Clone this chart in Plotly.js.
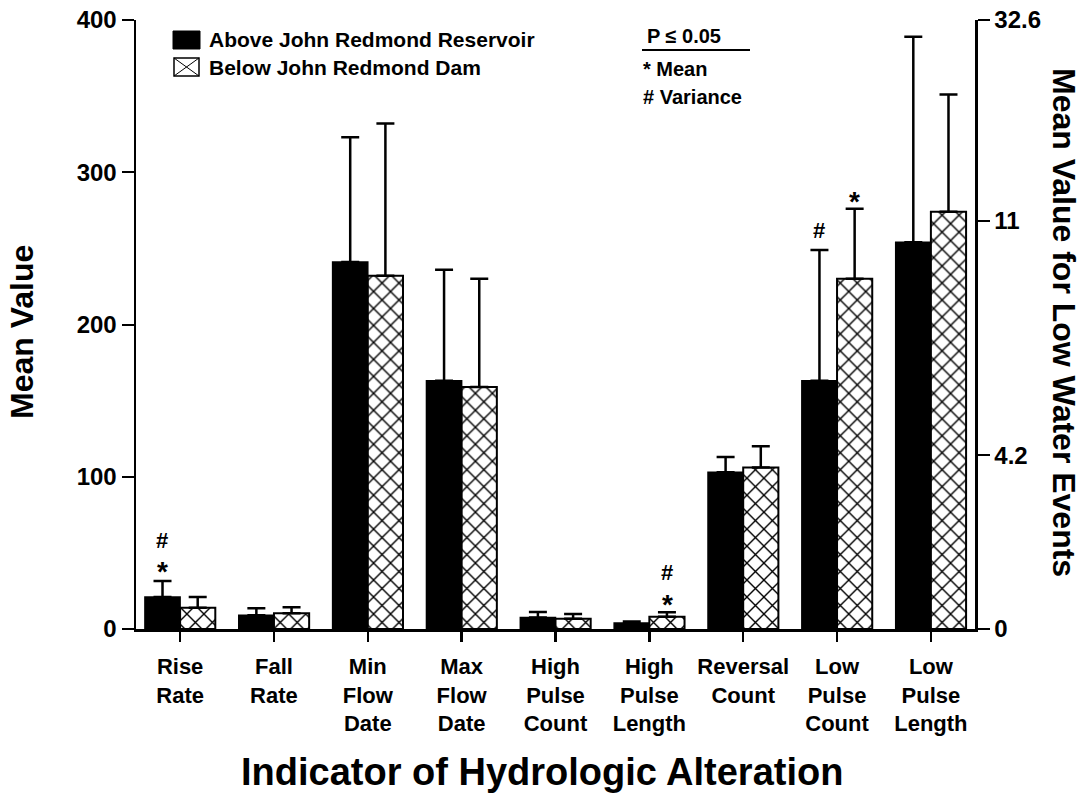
<!DOCTYPE html>
<html>
<head>
<meta charset="utf-8">
<script src="https://cdn.plot.ly/plotly-3.0.1.min.js"></script>
<style>html,body{margin:0;padding:0;background:#fff;}#chart{width:1085px;height:800px;}</style>
</head>
<body>
<div id="chart"></div>
<script>
// ---- data ----
const categories = ["Rise<br>Rate", "Fall<br>Rate", "Min<br>Flow<br>Date", "Max<br>Flow<br>Date",
  "High<br>Pulse<br>Count", "High<br>Pulse<br>Length", "Reversal<br>Count", "Low<br>Pulse<br>Count", "Low<br>Pulse<br>Length"];
const aboveValues = [21, 9, 241, 163, 7.5, 4, 103, 163, 254];
const aboveErrors = [10.5, 4.7, 82, 73, 3.7, 1, 10, 86, 135];
const belowValues = [14, 10.3, 232, 159, 6.8, 8, 106, 230, 274];
const belowErrors = [7, 4, 100, 71, 3, 3, 14, 46, 77];
const leftTicks = [0, 100, 200, 300, 400];
const rightTickPositions = [0, 114, 268, 400];
const rightTickLabels = ["0", "4.2", "11", "32.6"];
const seriesNames = ["Above John Redmond Reservoir", "Below John Redmond Dam"];
// significance marks: [category index, series (0 above / 1 below), symbol, value level]
const marks = [
  [0, 0, "#", 58], [0, 0, "*", 38],
  [5, 1, "#", 37], [5, 1, "*", 16],
  [7, 0, "#", 262], [7, 1, "*", 281]
];

// ---- layout helpers ----
const L = 136, R = 975, T = 20, B = 629;
const px = x => (x - L) / (R - L);
const py = y => (B - y) / (B - T);
const FONT = "Liberation Sans, Arial, sans-serif";
const xs = categories.map((c, i) => i);

const traces = [
  {
    type: "bar", name: seriesNames[0], x: xs, y: aboveValues,
    marker: {color: "#000", line: {color: "#000", width: 1.5}},
    error_y: {type: "data", array: aboveErrors, arrayminus: aboveValues.map(() => 0), symmetric: false,
      color: "#000", thickness: 2.5, width: 9},
    showlegend: false, hoverinfo: "skip"
  },
  {
    type: "bar", name: seriesNames[1], x: xs, y: belowValues,
    marker: {color: "#fff", line: {color: "#000", width: 2},
      pattern: {shape: "x", fgcolor: "#000", bgcolor: "#fff", size: 12, solidity: 0.22}},
    error_y: {type: "data", array: belowErrors, arrayminus: belowValues.map(() => 0), symmetric: false,
      color: "#000", thickness: 2.5, width: 9},
    showlegend: false, hoverinfo: "skip"
  },
  {
    type: "scatter", x: [0], y: [0], yaxis: "y2", mode: "markers",
    marker: {opacity: 0}, showlegend: false, hoverinfo: "skip"
  }
];

const offset = 0.19;
const annotations = marks.map(m => ({
  x: m[0] + (m[1] === 0 ? -offset : offset), y: m[3], xref: "x", yref: "y",
  text: m[2], showarrow: false, yanchor: "middle",
  font: {family: FONT, size: m[2] === "*" ? 28 : 22, color: "#000", weight: "bold"}
}));

const textFont = (s) => ({family: FONT, size: s, color: "#000", weight: "bold"});
annotations.push(
  {x: px(207), y: py(40), xref: "paper", yref: "paper", xanchor: "left", yanchor: "middle", showarrow: false,
   text: seriesNames[0], font: textFont(21)},
  {x: px(207), y: py(67), xref: "paper", yref: "paper", xanchor: "left", yanchor: "middle", showarrow: false,
   text: seriesNames[1], font: textFont(21)},
  {x: px(645), y: py(36), xref: "paper", yref: "paper", xanchor: "left", yanchor: "middle", showarrow: false,
   text: "P ≤ 0.05", font: textFont(20)},
  {x: px(641), y: py(69), xref: "paper", yref: "paper", xanchor: "left", yanchor: "middle", showarrow: false,
   text: "* Mean", font: textFont(20)},
  {x: px(641), y: py(97), xref: "paper", yref: "paper", xanchor: "left", yanchor: "middle", showarrow: false,
   text: "# Variance", font: textFont(20)},
  {x: px(22), y: py(332), xref: "paper", yref: "paper", xanchor: "center", yanchor: "middle", showarrow: false,
   text: "Mean Value", textangle: -90, font: textFont(32)},
  {x: px(1064), y: py(322), xref: "paper", yref: "paper", xanchor: "center", yanchor: "middle", showarrow: false,
   text: "Mean Value for Low Water Events", textangle: 90, font: textFont(32)},
  {x: px(542), y: py(772), xref: "paper", yref: "paper", xanchor: "center", yanchor: "middle", showarrow: false,
   text: "Indicator of Hydrologic Alteration", font: textFont(38)}
);

const shapes = [
  {type: "rect", xref: "paper", yref: "paper", x0: px(173), x1: px(200), y0: py(49), y1: py(31),
   fillcolor: "#000", line: {color: "#000", width: 1}},
  {type: "rect", xref: "paper", yref: "paper", x0: px(174), x1: px(199), y0: py(76), y1: py(58),
   fillcolor: "#fff", line: {color: "#000", width: 1.5}},
  {type: "line", xref: "paper", yref: "paper", x0: px(174), x1: px(199), y0: py(76), y1: py(58),
   line: {color: "#000", width: 1}},
  {type: "line", xref: "paper", yref: "paper", x0: px(174), x1: px(199), y0: py(58), y1: py(76),
   line: {color: "#000", width: 1}},
  {type: "line", xref: "paper", yref: "paper", x0: px(642), x1: px(750), y0: py(50), y1: py(50),
   line: {color: "#000", width: 2}}
];

const layout = {
  width: 1085, height: 800,
  margin: {l: L, r: 1085 - R, t: T, b: 800 - B, pad: 0},
  paper_bgcolor: "#fff", plot_bgcolor: "#fff",
  barmode: "group", bargap: 0.25, bargroupgap: 0,
  showlegend: false,
  xaxis: {
    range: [-0.47, 8.47], tickvals: xs, ticktext: categories,
    showline: true, linecolor: "#000", linewidth: 2.5, zeroline: false, showgrid: false,
    ticks: "outside", ticklen: 10, tickwidth: 2.5, tickcolor: "#000", ticklabelstandoff: 6,
    tickfont: textFont(22), fixedrange: true
  },
  yaxis: {
    range: [0, 400], tickvals: leftTicks,
    showline: true, linecolor: "#000", linewidth: 2.5, zeroline: false, showgrid: false,
    ticks: "outside", ticklen: 12, tickwidth: 2, tickcolor: "#000",
    tickfont: textFont(24), fixedrange: true
  },
  yaxis2: {
    overlaying: "y", side: "right", range: [0, 400],
    tickvals: rightTickPositions, ticktext: rightTickLabels,
    showline: true, linecolor: "#000", linewidth: 2.5, zeroline: false, showgrid: false,
    ticks: "outside", ticklen: 12, tickwidth: 2, tickcolor: "#000",
    tickfont: textFont(24), fixedrange: true
  },
  annotations: annotations,
  shapes: shapes
};

Plotly.newPlot("chart", traces, layout, {staticPlot: true, displayModeBar: false});
</script>
</body>
</html>
